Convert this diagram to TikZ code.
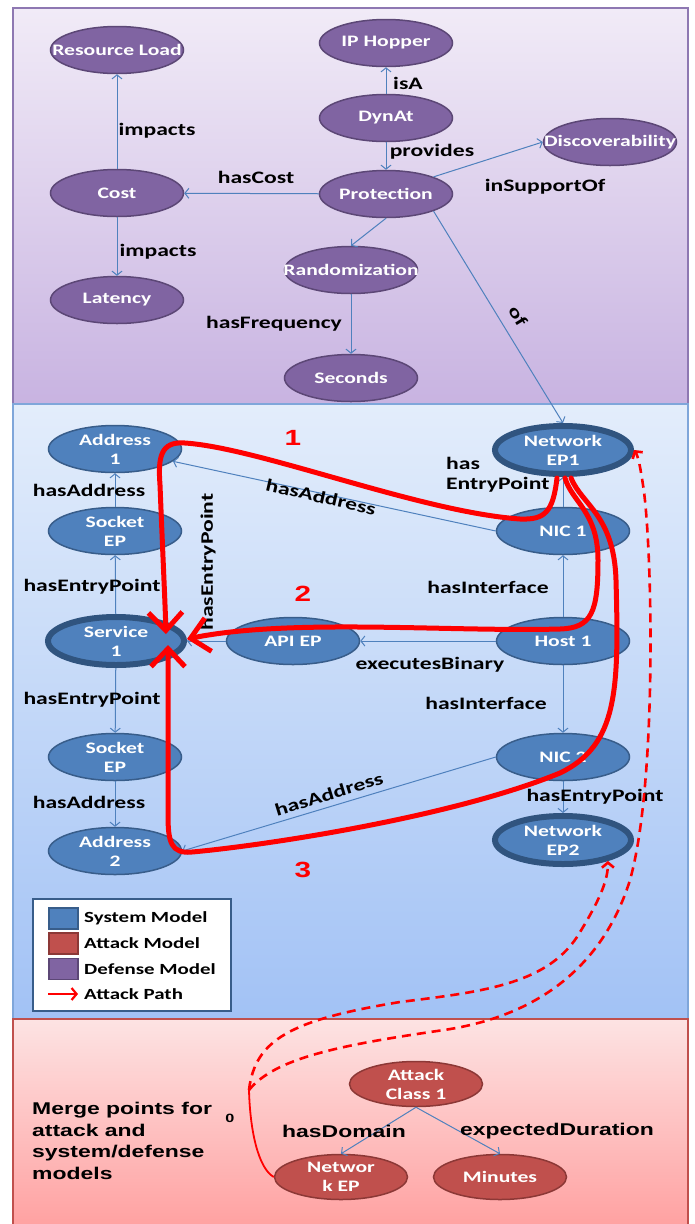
\documentclass[tikz,border=0pt]{standalone}
\usepackage{fontspec}
\setmainfont{Carlito}[FakeStretch=1.35]
\newfontfamily\arialfont{Liberation Sans}[FakeStretch=1.35]
\usetikzlibrary{shapes.geometric,arrows.meta}

\definecolor{purpfill}{HTML}{8064A2}
\definecolor{purpbd}{HTML}{5C4776}
\definecolor{bluefill}{HTML}{4F81BD}
\definecolor{bluebd}{HTML}{385D8A}
\definecolor{bluethick}{HTML}{30547F}
\definecolor{redfill}{HTML}{C0504D}
\definecolor{redbd}{HTML}{8C3836}
\definecolor{edgeblue}{HTML}{4F81BD}
\definecolor{ptop}{HTML}{F1EBF7}
\definecolor{pbot}{HTML}{C8B3E1}
\definecolor{pline}{HTML}{8E78B2}
\definecolor{btop}{HTML}{E3EDFB}
\definecolor{bbot}{HTML}{A2C2F5}
\definecolor{bline}{HTML}{7FA6DA}
\definecolor{rtop}{HTML}{FDE3E3}
\definecolor{rbot}{HTML}{FFA0A0}
\definecolor{rline}{HTML}{C0504D}

\newcommand\nodefont{\fontsize{16}{19}\selectfont\bfseries}
\newcommand\edgefont{\fontsize{17.5}{20}\selectfont\bfseries}
\newcommand\legfont{\fontsize{15.5}{18}\selectfont\bfseries}

\begin{document}
\begin{tikzpicture}[x=1pt,y=-1pt,
  txt/.style={label={[font=\nodefont,text=white,align=center,inner sep=0pt]center:#1}},
  purp/.style={ellipse,draw=purpbd,fill=purpfill,line width=1.5pt,
    minimum width=133pt,minimum height=47pt,inner sep=0pt,txt={#1}},
  sysn/.style={ellipse,draw=bluebd,fill=bluefill,line width=1.5pt,
    minimum width=133pt,minimum height=47pt,inner sep=0pt,txt={#1}},
  sysk/.style={ellipse,draw=bluethick,fill=bluefill,line width=6pt,
    minimum width=136pt,minimum height=48pt,inner sep=0pt,txt={#1}},
  atkn/.style={ellipse,draw=redbd,fill=redfill,line width=1.5pt,
    minimum width=133pt,minimum height=45pt,inner sep=0pt,txt={#1}},
  bedge/.style={draw=edgeblue,line width=1pt,-{Straight Barb[length=4pt,width=10pt]}},
  lbl/.style={font=\edgefont,inner sep=0pt},
  num/.style={font=\arialfont\fontsize{22}{24}\selectfont\bfseries,text=red,inner sep=0pt},
  rpath/.style={draw=red,line width=5pt,line cap=round,
    -{Straight Barb[length=18pt,width=34pt]}},
  dpath/.style={draw=red,line width=2.6pt,dash pattern=on 9pt off 6pt,
    -{Straight Barb[length=5pt,width=12pt]}},
  legsq/.style={draw=#1,line width=1.5pt,minimum width=29pt,minimum height=21pt,inner sep=0pt},
  legtxt/.style={font=\legfont,anchor=west,inner sep=0pt}
]
\useasboundingbox (0,0) rectangle (694,1224);

% ---------- background panels ----------
\shade[top color=ptop,bottom color=pbot] (13,8) rectangle (688,404);
\draw[pline,line width=1.2pt] (13,8) rectangle (688,404);
\shade[top color=btop,bottom color=bbot] (13,404) rectangle (688,1019);
\draw[bline,line width=1.2pt] (13,404) rectangle (688,1019);
\shade[top color=rtop,bottom color=rbot] (13,1019) rectangle (688,1230);
\draw[rline,line width=1.2pt] (13,1230) -- (13,1019) -- (688,1019) -- (688,1230);

% ---------- defense model ----------
\node[purp={Resource Load}] (rl)   at (117,50)  {};
\node[purp={IP Hopper}]     (iph)  at (386,43)  {};
\node[purp={DynAt}]         (dyn)  at (386,118) {};
\node[purp={Discoverability}] (disc) at (610,142) {};
\node[purp={Cost}]          (cost) at (117,193) {};
\node[purp={Protection}]    (prot) at (386,194) {};
\node[purp={Randomization}] (rand) at (351,270) {};
\node[purp={Latency}]       (lat)  at (117,300) {};
\node[purp={Seconds}]       (sec)  at (351,378) {};

% ---------- system model ----------
\node[sysn={Address\\1}]  (addr1) at (115,449) {};
\node[sysk={Network\\EP1}] (nep1) at (563,450) {};
\node[sysn={Socket\\EP}]  (sock1) at (115,531) {};
\node[sysn={NIC 1}]       (nic1)  at (563,531) {};
\node[sysk={Service\\1}]  (svc)   at (116,641) {};
\node[sysn={API EP}]      (api)   at (293,641) {};
\node[sysn={Host 1}]      (host)  at (563,641) {};
\node[sysn={Socket\\EP}]  (sock2) at (115,757) {};
\node[sysn={NIC 2}]       (nic2)  at (563,757) {};
\node[sysn={Address\\2}]  (addr2) at (115,851) {};
\node[sysk={Network\\EP2}] (nep2) at (563,840) {};

% ---------- attack model ----------
\node[atkn={Attack\\Class 1}] (ac1)  at (416,1084) {};
\node[atkn={Networ\\k EP}]    (nkep) at (341,1177) {};
\node[atkn={Minutes}]         (mins) at (500,1177) {};

% ---------- relations ----------
\draw[bedge] (cost) -- (rl);
\draw[bedge] (cost) -- (lat);
\draw[bedge] (dyn) -- (iph);
\draw[bedge] (dyn) -- (prot);
\draw[bedge] (prot) -- (cost);
\draw[bedge] (prot.north east) -- (disc.west);
\draw[bedge] (prot.south) -- (rand.north);
\draw[bedge] (rand) -- (sec);
\draw[bedge] (prot.south east) -- (nep1.north);

\draw[bedge] (sock1) -- (addr1);
\draw[bedge] (svc) -- (sock1);
\draw[bedge] (nic1.west) -- (addr1.-12);
\draw[bedge] (nic1) -- (nep1);
\draw[bedge] (host) -- (nic1);
\draw[bedge] (host) -- (api);
\draw[bedge] (api) -- (svc);
\draw[bedge] (host) -- (nic2);
\draw[bedge] (svc) -- (sock2);
\draw[bedge] (sock2) -- (addr2);
\draw[bedge] (nic2.west) -- (addr2.east);
\draw[bedge] (nic2) -- (nep2);

\draw[bedge] (ac1.south) -- (nkep.north);
\draw[bedge] (ac1.south) -- (mins.north);

% ---------- relation labels ----------
\node[lbl] (l1)  at (157,131) {impacts};
\node[lbl] (l2)  at (158,252) {impacts};
\node[lbl] (l3)  at (408,83)  {isA};
\node[lbl] (l4)  at (432,152) {provides};
\node[lbl] (l5)  at (256,177) {hasCost};
\node[lbl] (l6)  at (545,187) {inSupportOf};
\node[lbl] (l7)  at (274,324) {hasFrequency};
\node[lbl,rotate=-58.4] (l8) at (518,316) {of};

\node[lbl] (l9)  at (89,490)  {hasAddress};
\node[lbl] (l10) at (92,587)  {hasEntryPoint};
\node[lbl,rotate=90] (l11) at (208,562) {hasEntryPoint};
\node[lbl,rotate=-13] (l12) at (321,497) {hasAddress};
\node[lbl,align=left,anchor=west] (l13) at (446,475) {has\\EntryPoint};
\node[lbl] (l14) at (488,587) {hasInterface};
\node[lbl] (l15) at (430,665) {executesBinary};
\node[lbl] (l16) at (486,703) {hasInterface};
\node[lbl] (l17) at (92,700)  {hasEntryPoint};
\node[lbl] (l18) at (89,802)  {hasAddress};
\node[lbl,rotate=17] (l19) at (329,794) {hasAddress};
\node[lbl] (l20) at (595,797) {hasEntryPoint};

\node[lbl,font=\arialfont\fontsize{17}{20}\selectfont\bfseries] (l21) at (344,1131) {hasDomain};
\node[lbl,font=\arialfont\fontsize{17}{20}\selectfont\bfseries] (l22) at (557,1131) {expectedDuration};

\node[lbl,font=\arialfont\fontsize{17}{21.5}\selectfont\bfseries,align=left,anchor=west]
  (merge) at (32,1141) {Merge points for\\attack and\\system/defense\\models};
\node[inner sep=0pt,font=\arialfont\fontsize{12}{14}\selectfont\bfseries] (zero) at (230,1118) {0};

% ---------- numbered attack steps ----------
\node[num] (n1) at (293,438) {1};
\node[num] (n2) at (303,594) {2};
\node[num] (n3) at (303,870) {3};

% ---------- legend ----------
\draw[fill=white,draw=bluebd,line width=1.5pt] (33,899) rectangle (231,1011);
\node[legsq=bluebd,fill=bluefill]  (lg1) at (63.5,918.5) {};
\node[legsq=redbd,fill=redfill]    (lg2) at (63.5,943.5) {};
\node[legsq=purpbd,fill=purpfill]  (lg3) at (63.5,969)   {};
\coordinate (lga) at (48,994);
\coordinate (lgb) at (78,994);
\draw[draw=red,line width=2.2pt,-{Straight Barb[length=5pt,width=12pt]}] (lga) -- (lgb);
\node[legtxt] (lt1) at (84,918.5) {System Model};
\node[legtxt] (lt2) at (84,943.5) {Attack Model};
\node[legtxt] (lt3) at (84,969)   {Defense Model};
\node[legtxt] (lt4) at (84,994)   {Attack Path};

% ---------- attack paths through the system model ----------
\coordinate (p1s) at (557,478);
\coordinate (p1e) at (166,634);
\draw[rpath] (p1s) .. controls (553,512) and (545,520) .. (520,519)
  .. controls (420,512) and (260,448) .. (185,443)
  .. controls (160,441) and (158,458) .. (160,485)
  .. controls (163,560) and (165,600) .. (p1e);

\coordinate (p2s) at (565,478);
\coordinate (p2e) at (187,639);
\draw[rpath] (p2s) .. controls (572,502) and (598,512) .. (598,560)
  .. controls (598,612) and (592,628) .. (560,629)
  .. controls (450,632) and (290,618) .. (p2e);

\coordinate (p3s) at (571,478);
\coordinate (p3e) at (168,645);
\draw[rpath] (p3s) .. controls (582,505) and (614,515) .. (616,580)
  .. controls (619,690) and (618,745) .. (560,773)
  .. controls (450,818) and (260,846) .. (192,852)
  .. controls (171,854) and (168,842) .. (168,815)
  -- (p3e);

% ---------- merge links from the attack model ----------
\coordinate (br) at (249,1090);
\draw[red,line width=1.8pt] (nkep.west) .. controls (258,1168) and (250,1130) .. (br);
\draw[dpath] (br) .. controls (255,1040) and (290,1020) .. (400,1002)
  .. controls (480,992) and (545,985) .. (577,937)
  .. controls (600,900) and (608,880) .. (nep2.-25);
\draw[dpath] (br) .. controls (275,1058) and (340,1045) .. (444,1030)
  .. controls (545,1015) and (605,960) .. (630,880)
  .. controls (658,780) and (652,540) .. (643,485)
  .. controls (640,465) and (638,456) .. (nep1.east);
\end{tikzpicture}
\end{document}
